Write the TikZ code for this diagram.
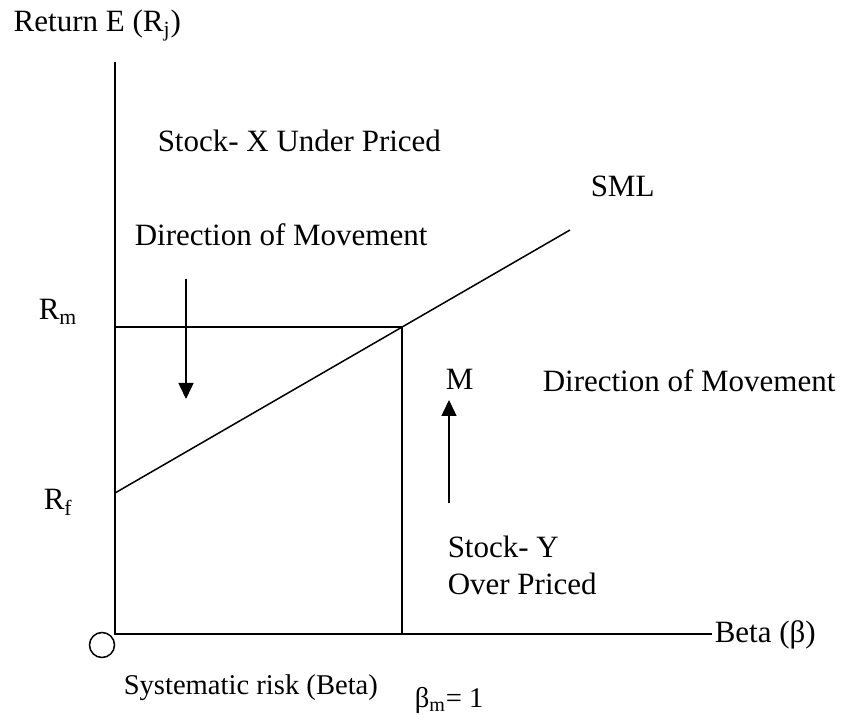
\documentclass[tikz,border=0pt]{standalone}
\usepackage{fontspec}
\setmainfont{Liberation Serif}
\usetikzlibrary{arrows.meta}

\tikzset{
  lbl/.style={anchor=base west, inner sep=0pt, font=\fontsize{15.5}{19}\selectfont},
  lblsmall/.style={lbl, font=\fontsize{14.3}{17}\selectfont},
  mover/.style={-{Triangle[length=8pt,width=7.5pt]}},
}

\begin{document}
\begin{tikzpicture}[x=0.5pt, y=-0.5pt, line width=0.75pt]
\useasboundingbox (0,0) rectangle (846,715);
% axes
\coordinate (O) at (115,634);
\coordinate (ytop) at (115,62);
\coordinate (xend) at (712,634);
\coordinate (rm) at (115,327);
\coordinate (mk) at (402,327);
\coordinate (mb) at (402,634);
\coordinate (rf) at (115,493);
\coordinate (smlend) at (570,230);
\draw (ytop) -- (O) -- (xend);
\draw (rm) -- (mk) -- (mb);
\draw (rf) -- (smlend);
\draw (102,645) circle (12.5);
% movement arrows
\coordinate (dtop) at (186,279);
\coordinate (dtip) at (186,399);
\coordinate (ubot) at (449,503);
\coordinate (utip) at (449,400);
\draw[mover] (dtop) -- (dtip);
\draw[mover] (ubot) -- (utip);
% labels
\node[lbl] (ret) at (13,32) {Return E (R\textsubscript{j})};
\node[lbl] (stx) at (157,152) {Stock- X Under Priced};
\node[lbl] (sml) at (590,197) {SML};
\node[lbl] (dml) at (134,246) {Direction of Movement};
\node[lbl] (rmlbl) at (38,320) {R\textsubscript{m}};
\node[lbl] (mlbl) at (445,390) {M};
\node[lbl] (dmr) at (542,392) {Direction of Movement};
\node[lbl] (rflbl) at (43,510) {R\textsubscript{f}};
\node[lbl] (sty) at (447,558) {Stock- Y};
\node[lbl] (ovp) at (447,595) {Over Priced};
\node[lbl] (beta) at (714,643) {Beta (β)};
\node[lblsmall] (sysr) at (123,695) {Systematic risk (Beta)};
\node[lblsmall] (bm) at (414,707) {β\textsubscript{m}= 1};
\end{tikzpicture}
\end{document}
